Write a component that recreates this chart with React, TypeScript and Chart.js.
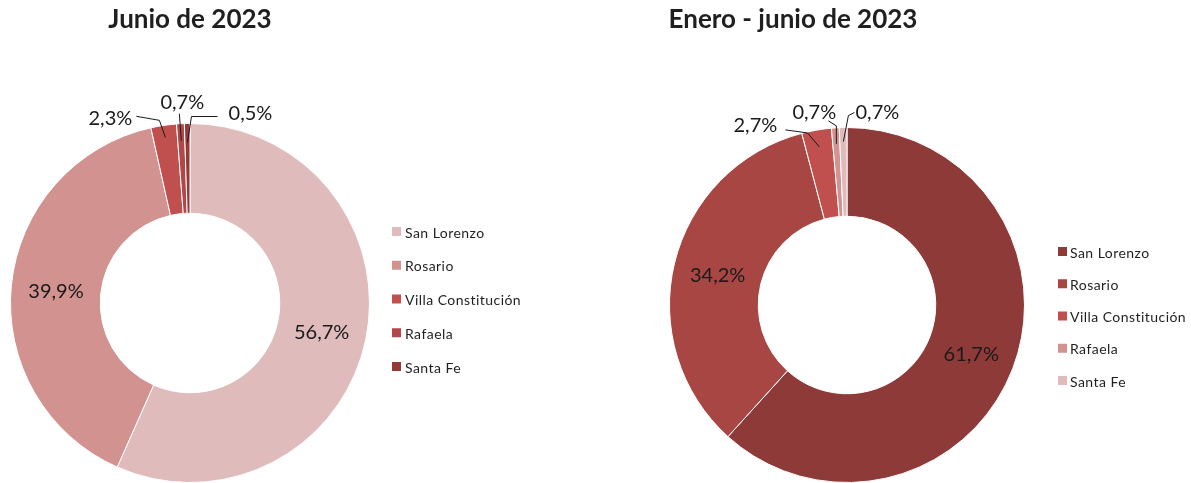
import React, { useEffect, useRef } from "react";
import { Chart, registerables } from "chart.js";

Chart.register(...registerables);

const categories = ["San Lorenzo", "Rosario", "Villa Constitución", "Rafaela", "Santa Fe"];
const juneValues = [56.7, 39.9, 2.3, 0.7, 0.5];
const ytdValues = [61.7, 34.2, 2.7, 0.7, 0.7];
const juneColors = ["#E0BBBB", "#D29290", "#C0504D", "#B0484A", "#953836"];
const ytdColors = ["#8E3A38", "#A84644", "#C0504D", "#D29290", "#E0BBBB"];
const juneTitle = "Junio de 2023";
const ytdTitle = "Enero - junio de 2023";

const FONT = "Lato, 'Open Sans', sans-serif";

type Outside = { inset: number; text: [number, number]; path: [number, number][] };
type Panel = {
  title: string;
  values: number[];
  colors: string[];
  width: number;
  left: number;
  padding: { left: number; top: number; right: number; bottom: number };
  titleX: number;
  legendX: number;
  legendGap: number;
  legendY: number;
  legendStep: number;
  outside: Record<number, Outside>;
};

const fmt = (v: number) => v.toFixed(1).replace(".", ",") + "%";

const panels: Panel[] = [
  {
    title: juneTitle,
    values: juneValues,
    colors: juneColors,
    width: 595,
    left: 0,
    padding: { left: 10, top: 123, right: 225, bottom: 0 },
    titleX: 190,
    legendX: 392,
    legendGap: 13,
    legendY: 232,
    legendStep: 33.75,
    outside: {
      2: { inset: 12, text: [-55, -19], path: [[-29, -21], [-6, -17]] },
      3: { inset: 17, text: [1, -38], path: [[-2, -27]] },
      4: { inset: 19, text: [63, -29], path: [[30, -26], [4, -26]] },
    },
  },
  {
    title: ytdTitle,
    values: ytdValues,
    colors: ytdColors,
    width: 596,
    left: 595,
    padding: { left: 74, top: 127, right: 166, bottom: 0 },
    titleX: 198,
    legendX: 463,
    legendGap: 12,
    legendY: 252,
    legendStep: 32.25,
    outside: {
      2: { inset: 17, text: [-64, -21], path: [[-34, -17], [-12, -14]] },
      3: { inset: 16, text: [-22, -31], path: [[-8, -23], [0, -18]] },
      4: { inset: 14, text: [34, -29], path: [[11, -29], [5, -26]] },
    },
  },
];

function makePlugin(p: Panel) {
  return {
    id: "customDraw",
    afterDraw(chart: any) {
      const ctx = chart.ctx as CanvasRenderingContext2D;
      ctx.save();
      // title
      ctx.fillStyle = "#1f1f1f";
      ctx.font = `bold 26px ${FONT}`;
      ctx.textAlign = "center";
      ctx.textBaseline = "middle";
      ctx.fillText(p.title, p.titleX, 20);
      // legend
      ctx.font = `14px ${FONT}`;
      ctx.textAlign = "left";
      (ctx as any).letterSpacing = "0.45px";
      categories.forEach((c, i) => {
        const y = p.legendY + i * p.legendStep;
        ctx.fillStyle = p.colors[i];
        ctx.fillRect(p.legendX, y - 5, 9, 9);
        ctx.fillStyle = "#1f1f1f";
        ctx.fillText(c, p.legendX + p.legendGap, y + 1);
      });
      (ctx as any).letterSpacing = "0px";
      // data labels
      const meta = chart.getDatasetMeta(0);
      ctx.font = `20px ${FONT}`;
      ctx.textAlign = "center";
      meta.data.forEach((arc: any, i: number) => {
        const label = fmt(p.values[i]);
        const o = p.outside[i];
        if (!o) {
          const pos = arc.tooltipPosition();
          ctx.fillStyle = "#1a1a1a";
          ctx.fillText(label, pos.x, pos.y + 2);
          return;
        }
        const { x, y, startAngle, endAngle, outerRadius } = arc.getProps(
          ["x", "y", "startAngle", "endAngle", "outerRadius"],
          true
        );
        const mid = (startAngle + endAngle) / 2;
        const r = outerRadius - o.inset;
        const ax = x + Math.cos(mid) * r;
        const ay = y + Math.sin(mid) * r;
        ctx.strokeStyle = "#1a1a1a";
        ctx.lineWidth = 1;
        ctx.beginPath();
        o.path.forEach(([dx, dy], k) => {
          if (k === 0) ctx.moveTo(ax + dx, ay + dy);
          else ctx.lineTo(ax + dx, ay + dy);
        });
        ctx.lineTo(ax, ay);
        ctx.stroke();
        ctx.fillStyle = "#1a1a1a";
        ctx.fillText(label, ax + o.text[0], ay + o.text[1]);
      });
      ctx.restore();
    },
  };
}

function DoughnutPanel({ p }: { p: Panel }) {
  const ref = useRef<HTMLCanvasElement | null>(null);
  useEffect(() => {
    if (!ref.current) return;
    const chart = new Chart(ref.current, {
      type: "doughnut",
      data: {
        labels: categories,
        datasets: [
          {
            data: p.values,
            backgroundColor: p.colors,
            borderColor: "#ffffff",
            borderWidth: 1,
          },
        ],
      },
      options: {
        animation: false,
        responsive: false,
        devicePixelRatio: 1,
        cutout: "50%",
        layout: { padding: p.padding },
        plugins: {
          legend: { display: false },
          title: { display: false },
          tooltip: { enabled: false },
        },
      },
      plugins: [makePlugin(p)],
    } as any);
    return () => chart.destroy();
  }, [p]);
  return (
    <canvas
      ref={ref}
      width={p.width}
      height={483}
      style={{ position: "absolute", left: p.left, top: 0, width: p.width, height: 483 }}
    />
  );
}

export default function App() {
  return (
    <div style={{ position: "absolute", left: 0, top: 0, width: 1191, height: 483, background: "#fff" }}>
      {panels.map((p, i) => (
        <DoughnutPanel key={i} p={p} />
      ))}
    </div>
  );
}
